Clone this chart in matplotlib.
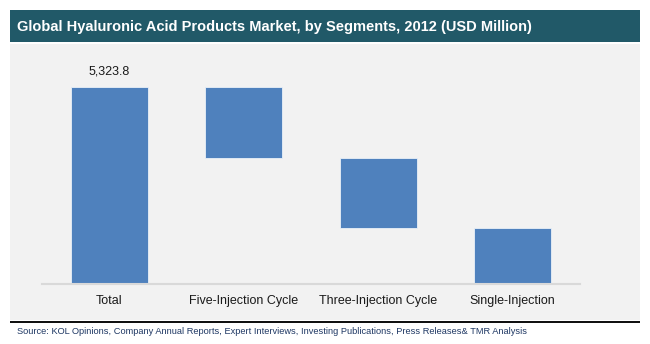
import matplotlib.pyplot as plt
from matplotlib.patches import Rectangle
import numpy as np

plt.rcParams['font.family'] = ['Liberation Sans', 'DejaVu Sans']

categories = ['Total', 'Five-Injection Cycle', 'Three-Injection Cycle', 'Single-Injection']
total = 5323.8
segments = [1920.0, 1890.0, 1513.8]
title = 'Global Hyaluronic Acid Products Market, by Segments, 2012 (USD Million)'
source = 'Source: KOL Opinions, Company Annual Reports, Expert Interviews, Investing Publications, Press Releases& TMR Analysis'

W, H = 650, 344
fig = plt.figure(figsize=(W / 100, H / 100), dpi=100)
fig.patch.set_facecolor('white')

# background pieces (pixel coords -> figure fractions)
def box(x0, y0, x1, y1, color):
    fig.patches.append(Rectangle((x0 / W, 1 - y1 / H), (x1 - x0) / W, (y1 - y0) / H,
                                 transform=fig.transFigure, facecolor=color,
                                 edgecolor='none', zorder=-5))

box(10, 10, 640, 42, '#215968')
box(10, 44, 640, 320, '#F2F2F2')
box(10, 321, 640, 323, '#111111')

fig.text(17 / W, 1 - 27 / H, title, color='white', fontsize=10.5, fontweight='bold',
         va='center', ha='left')
fig.text(17 / W, 1 - 331 / H, source, color='#1F3864', fontsize=6.7,
         va='center', ha='left')

ax = fig.add_axes([42 / W, 1 - 284 / H, 538 / W, 222 / H])
ax.set_facecolor('none')

# waterfall: total bar then stacked drops
heights = [total] + segments
bottoms = [0.0]
level = total
for s in segments:
    level -= s
    bottoms.append(level)
x = np.arange(len(categories))
ax.bar(x, heights, bottom=bottoms, width=0.57, color='#4F81BD',
       edgecolor='#EAF0F8', linewidth=0.6)
ax.text(x[0], total + 250, f'{total:,.1f}', ha='center', va='bottom',
        fontsize=9, color='#1a1a1a')

ax.set_xlim(-0.5, 3.5)
ax.set_ylim(0, total * 222 / 197)
ax.set_xticks(x)
ax.set_xticklabels(categories, fontsize=9, color='#1a1a1a')
ax.tick_params(axis='x', length=0, pad=8)
ax.set_yticks([])
for side in ['top', 'right', 'left']:
    ax.spines[side].set_visible(False)
ax.spines['bottom'].set_color('#D9D9D9')
ax.spines['bottom'].set_linewidth(1.5)

fig.savefig('out.png', dpi=100)
